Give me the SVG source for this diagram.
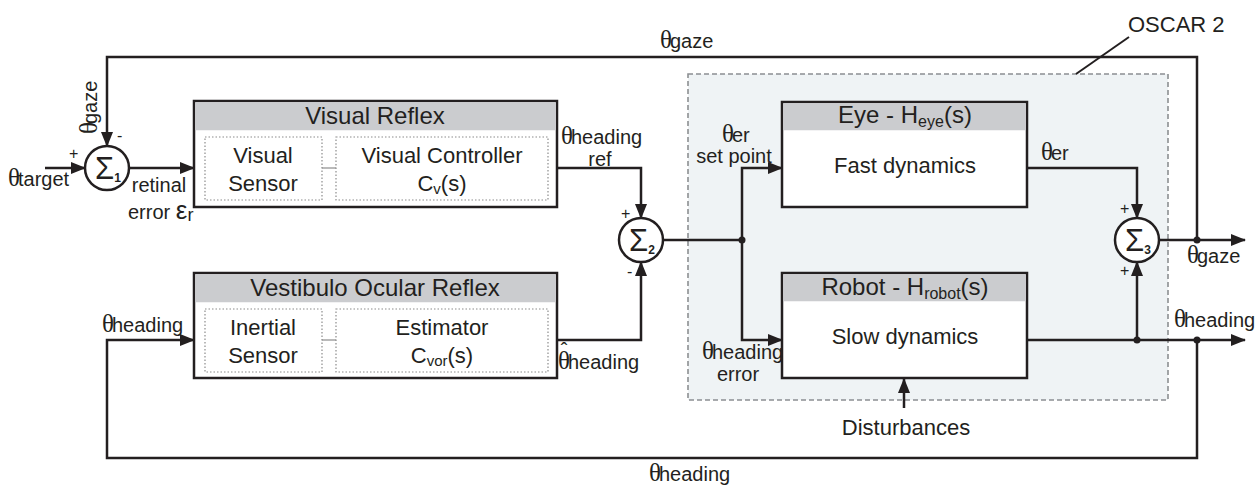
<svg xmlns="http://www.w3.org/2000/svg" width="1255" height="487" viewBox="0 0 1255 487">
<style>
text{font-family:"Liberation Sans",Arial,sans-serif;fill:#231f20}
.lbl{font-size:20px}
.box{font-size:22px}
.ttl{font-size:24px}
.th{font-family:"Liberation Serif","Times New Roman",serif;font-size:25px}
.sb{font-size:20px}
.sig{font-size:31px}
.sn{font-size:12px;font-weight:bold}
.pm{font-size:16px}
.blk{fill:#fff;stroke:#231f20;stroke-width:2.5}
.hdr{fill:#cbcccf;stroke:none}
.inner{fill:none;stroke:#8c8c8c;stroke-width:1.2;stroke-dasharray:1.5 2}
.w{fill:none;stroke:#231f20;stroke-width:2.5}
.wa{fill:none;stroke:#231f20;stroke-width:2.5;marker-end:url(#ah)}
.dot{fill:#231f20}
.sum{fill:#fff;stroke:#231f20;stroke-width:2.5}
</style>
<defs>
<marker id="ah" markerUnits="userSpaceOnUse" markerWidth="15" markerHeight="12" refX="14" refY="6" orient="auto">
<path d="M0,0 L15,6 L0,12 z" fill="#231f20"/>
</marker>
</defs>

<g id="oscar">
<rect x="688" y="74" width="480" height="326" fill="#eff3f5" stroke="#8c8f92" stroke-width="1.6" stroke-dasharray="5 3"/>
<line x1="1076" y1="74" x2="1129" y2="37" stroke="#231f20" stroke-width="2"/>
<text class="box" x="1128" y="32">OSCAR 2</text>
</g>

<g id="connectors">
<polyline class="wa" points="1197,240 1197,57 107,57 107,146"/>
<line class="wa" x1="45" y1="168" x2="85" y2="168"/>
<line class="wa" x1="129" y1="168" x2="194" y2="168"/>
<polyline class="wa" points="557,168 641,168 641,218"/>
<polyline class="wa" points="557,340 641,340 641,262"/>
<line class="w" x1="663" y1="240" x2="742" y2="240"/>
<polyline class="wa" points="742,240 742,168 782,168"/>
<polyline class="wa" points="742,240 742,340 782,340"/>
<polyline class="wa" points="1027,168 1137,168 1137,218"/>
<line class="wa" x1="1159" y1="240" x2="1245" y2="240"/>
<line class="wa" x1="1027" y1="340" x2="1245" y2="340"/>
<line class="wa" x1="1137" y1="340" x2="1137" y2="262"/>
<polyline class="wa" points="1197,340 1197,458 107,458 107,340 194,340"/>
<line class="wa" x1="904" y1="408" x2="904" y2="379"/>
<circle class="dot" cx="742" cy="240" r="3.5"/>
<circle class="dot" cx="1197" cy="240" r="3.5"/>
<circle class="dot" cx="1137" cy="340" r="3.5"/>
<circle class="dot" cx="1197" cy="340" r="3.5"/>
</g>

<g id="sum1">
<circle class="sum" cx="107" cy="168" r="22"/>
<text class="sig" x="95" y="179">Σ<tspan class="sn" dy="3">1</tspan></text>
<text class="pm" x="69" y="159">+</text>
<text class="pm" x="117" y="141">-</text>
</g>

<g id="sum2">
<circle class="sum" cx="641" cy="240" r="22"/>
<text class="sig" x="629" y="251">Σ<tspan class="sn" dy="3">2</tspan></text>
<text class="pm" x="621" y="219">+</text>
<text class="pm" x="627" y="277">-</text>
</g>

<g id="sum3">
<circle class="sum" cx="1137" cy="240" r="22"/>
<text class="sig" x="1125" y="251">Σ<tspan class="sn" dy="3">3</tspan></text>
<text class="pm" x="1120" y="214">+</text>
<text class="pm" x="1120" y="276">+</text>
</g>

<g id="visual-reflex">
<rect class="blk" x="194" y="101" width="363" height="106"/>
<rect class="hdr" x="195.25" y="102.25" width="360.5" height="28"/>
<text class="ttl" x="375" y="124" text-anchor="middle">Visual Reflex</text>
<rect class="inner" x="205" y="137" width="117" height="63"/>
<rect class="inner" x="336" y="137" width="212" height="63"/>
<line x1="322" y1="168" x2="336" y2="168" stroke="#8c8c8c" stroke-width="1.2"/>
<text class="box" x="263" y="163" text-anchor="middle">Visual</text>
<text class="box" x="263" y="191" text-anchor="middle">Sensor</text>
<text class="box" x="442" y="163" text-anchor="middle">Visual Controller</text>
<text class="box" x="442" y="191" text-anchor="middle">C<tspan font-size="15" dy="3">v</tspan><tspan dy="-3">(s)</tspan></text>
</g>

<g id="vor">
<rect class="blk" x="194" y="273" width="363" height="105"/>
<rect class="hdr" x="195.25" y="274.25" width="360.5" height="28"/>
<text class="ttl" x="375" y="296" text-anchor="middle">Vestibulo Ocular Reflex</text>
<rect class="inner" x="205" y="309" width="117" height="63"/>
<rect class="inner" x="336" y="309" width="212" height="63"/>
<line x1="322" y1="340" x2="336" y2="340" stroke="#8c8c8c" stroke-width="1.2"/>
<text class="box" x="263" y="335" text-anchor="middle">Inertial</text>
<text class="box" x="263" y="363" text-anchor="middle">Sensor</text>
<text class="box" x="442" y="335" text-anchor="middle">Estimator</text>
<text class="box" x="442" y="363" text-anchor="middle">C<tspan font-size="15" dy="3">vor</tspan><tspan dy="-3">(s)</tspan></text>
</g>

<g id="eye">
<rect class="blk" x="782" y="102" width="245" height="105"/>
<rect class="hdr" x="783.25" y="103.25" width="242.5" height="27"/>
<text class="ttl" x="905" y="123" text-anchor="middle">Eye - H<tspan font-size="16" dy="4">eye</tspan><tspan dy="-4">(s)</tspan></text>
<text class="box" x="905" y="173" text-anchor="middle">Fast dynamics</text>
</g>

<g id="robot">
<rect class="blk" x="782" y="273" width="245" height="105"/>
<rect class="hdr" x="783.25" y="274.25" width="242.5" height="27"/>
<text class="ttl" x="905" y="295" text-anchor="middle">Robot - H<tspan font-size="16" dy="4">robot</tspan><tspan dy="-4">(s)</tspan></text>
<text class="box" x="905" y="344" text-anchor="middle">Slow dynamics</text>
</g>

<g id="labels">
<text x="660" y="48"><tspan class="th">θ</tspan><tspan class="sb" dx="-2">gaze</tspan></text>
<text transform="translate(97,134) rotate(-90)"><tspan class="th">θ</tspan><tspan class="sb" dx="-2">gaze</tspan></text>
<text x="8" y="186"><tspan class="th">θ</tspan><tspan class="sb" dx="-2">target</tspan></text>
<text class="lbl" x="159" y="192" text-anchor="middle">retinal</text>
<text class="lbl" x="128" y="219">error <tspan font-size="26">ε</tspan><tspan font-size="18" dy="2">r</tspan></text>
<text x="561" y="144"><tspan class="th">θ</tspan><tspan class="sb" dx="-2">heading</tspan></text>
<text class="lbl" x="600" y="166" text-anchor="middle">ref</text>
<text x="558" y="369"><tspan class="th">θ</tspan><tspan class="sb" dx="-2">heading</tspan></text>
<text class="lbl" x="564" y="357" text-anchor="middle">ˆ</text>
<text x="102" y="332"><tspan class="th">θ</tspan><tspan class="sb" dx="-2">heading</tspan></text>
<text x="722" y="142"><tspan class="th">θ</tspan><tspan class="sb" dx="-2">er</tspan></text>
<text class="lbl" x="734" y="163" text-anchor="middle">set point</text>
<text x="702" y="359"><tspan class="th">θ</tspan><tspan class="sb" dx="-2">heading</tspan></text>
<text class="lbl" x="738" y="381" text-anchor="middle">error</text>
<text x="1041" y="160"><tspan class="th">θ</tspan><tspan class="sb" dx="-2">er</tspan></text>
<text x="1187" y="263"><tspan class="th">θ</tspan><tspan class="sb" dx="-2">gaze</tspan></text>
<text x="1174" y="327"><tspan class="th">θ</tspan><tspan class="sb" dx="-2">heading</tspan></text>
<text x="649" y="481"><tspan class="th">θ</tspan><tspan class="sb" dx="-2">heading</tspan></text>
<text class="box" x="906" y="435" text-anchor="middle">Disturbances</text>
</g>
</svg>
